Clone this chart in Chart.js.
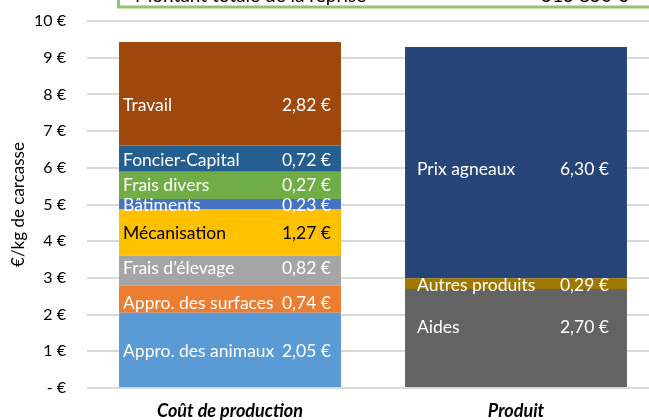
<!DOCTYPE html>
<html><head><meta charset="utf-8">
<script src="https://cdn.jsdelivr.net/npm/chart.js@4.4.0/dist/chart.umd.min.js"></script>
<style>
html,body{margin:0;padding:0;overflow:hidden;background:#fff;width:649px;height:420px}
#wrap{position:absolute;left:0;top:0;width:660px;height:420px}
</style>
</head><body>
<div id="wrap"><canvas id="c" width="660" height="420"></canvas></div>
<script>
const categories = ["Coût de production", "Produit"];

const costNames  = ["Appro. des animaux", "Appro. des surfaces", "Frais d’élevage", "Mécanisation", "Bâtiments", "Frais divers", "Foncier-Capital", "Travail"];
const costValues = [2.05, 0.74, 0.82, 1.27, 0.27, 0.74, 0.72, 2.82];
const costLabels = ["2,05 €", "0,74 €", "0,82 €", "1,27 €", "0,23 €", "0,27 €", "0,72 €", "2,82 €"];

const productNames  = ["Aides", "Autres produits", "Prix agneaux"];
const productValues = [2.70, 0.29, 6.30];
const productLabels = ["2,70 €", "0,29 €", "6,30 €"];

const yMin = 0, yMax = 10, yStep = 1;
const boxTitle = "Montant totale de la reprise";
const boxValue = "515 850 €";

const costColors    = ["#5B9BD5", "#ED7D31", "#A5A5A5", "#FFC000", "#4472C4", "#70AD47", "#255E91", "#9E480E"];
const costText      = ["#fff", "#fff", "#fff", "#000", "#fff", "#fff", "#fff", "#fff"];
const productColors = ["#636363", "#9E7800", "#264478"];
const productText   = ["#fff", "#fff", "#fff"];

const FONT = "Lato, 'DejaVu Sans', sans-serif";

const datasets = [];
costNames.forEach((n, i) => datasets.push({
  label: n, data: [costValues[i], null], valueText: costLabels[i],
  backgroundColor: costColors[i], textColor: costText[i], stack: "s"
}));
productNames.forEach((n, i) => datasets.push({
  label: n, data: [null, productValues[i]], valueText: productLabels[i],
  backgroundColor: productColors[i], textColor: productText[i], stack: "s"
}));

const labelOffsets = { "Travail": 10, "Aides": -12, "Frais d’élevage": -4, "Appro. des surfaces": 3, "Frais divers": -2, "Prix agneaux": 5 };
const labelPads = [[4, 10], [12, 18]];

const segLabels = {
  id: "segLabels",
  afterDatasetsDraw(chart) {
    const ctx = chart.ctx;
    ctx.save();
    ctx.font = "17.5px " + FONT;
    ctx.textBaseline = "middle";
    chart.data.datasets.forEach((ds, di) => {
      const meta = chart.getDatasetMeta(di);
      ds.data.forEach((v, idx) => {
        if (v === null) return;
        const el = meta.data[idx];
        const left = el.x - el.width / 2, right = el.x + el.width / 2;
        const yc = (el.y + el.base) / 2 + (labelOffsets[ds.label] || 0) + 1.5;
        ctx.fillStyle = ds.textColor;
        ctx.textAlign = "left";
        ctx.fillText(ds.label, left + labelPads[idx][0], yc);
        ctx.textAlign = "right";
        ctx.fillText(ds.valueText, right - labelPads[idx][1], yc);
      });
    });
    ctx.restore();
  }
};

const topBox = {
  id: "topBox",
  afterDraw(chart) {
    const ctx = chart.ctx;
    ctx.save();
    ctx.strokeStyle = "#92C46E";
    ctx.lineWidth = 3;
    ctx.strokeRect(118.5, -60, 700, 67);
    ctx.fillStyle = "#000";
    ctx.font = "19px " + FONT;
    ctx.textBaseline = "alphabetic";
    ctx.textAlign = "left";
    ctx.fillText(boxTitle, 135, 2);
    ctx.textAlign = "right";
    ctx.fillText(boxValue, 628, 2);
    ctx.restore();
  }
};

new Chart(document.getElementById("c"), {
  type: "bar",
  data: { labels: categories, datasets },
  options: {
    responsive: false,
    animation: false,
    layout: { padding: { top: 21, right: 1, left: 0, bottom: 0 } },
    plugins: { legend: { display: false }, tooltip: { enabled: false } },
    datasets: { bar: { categoryPercentage: 1, barPercentage: 0.776 } },
    scales: {
      x: {
        stacked: true,
        grid: { display: false },
        border: { display: false },
        ticks: { color: "#000", font: { family: FONT, size: 18, weight: "bold", style: "italic" }, padding: 4 },
        afterFit(s) { s.height = 32; s.paddingLeft = 0; s.paddingRight = 0; }
      },
      y: {
        stacked: true, min: yMin, max: yMax,
        ticks: { stepSize: yStep, color: "#000", font: { family: FONT, size: 16 }, padding: 21,
                 callback: v => v === 0 ? "- €" : v + " €" },
        grid: { color: "#D9D9D9", lineWidth: 2, drawTicks: false },
        border: { display: false },
        title: { display: true, text: "€/kg de carcasse", color: "#000", font: { family: FONT, size: 17 }, padding: { top: 8, bottom: 0 } },
        afterFit(s) { s.width = 87; s.paddingTop = 0; s.paddingBottom = 0; }
      }
    }
  },
  plugins: [segLabels, topBox]
});
</script>
</body></html>
